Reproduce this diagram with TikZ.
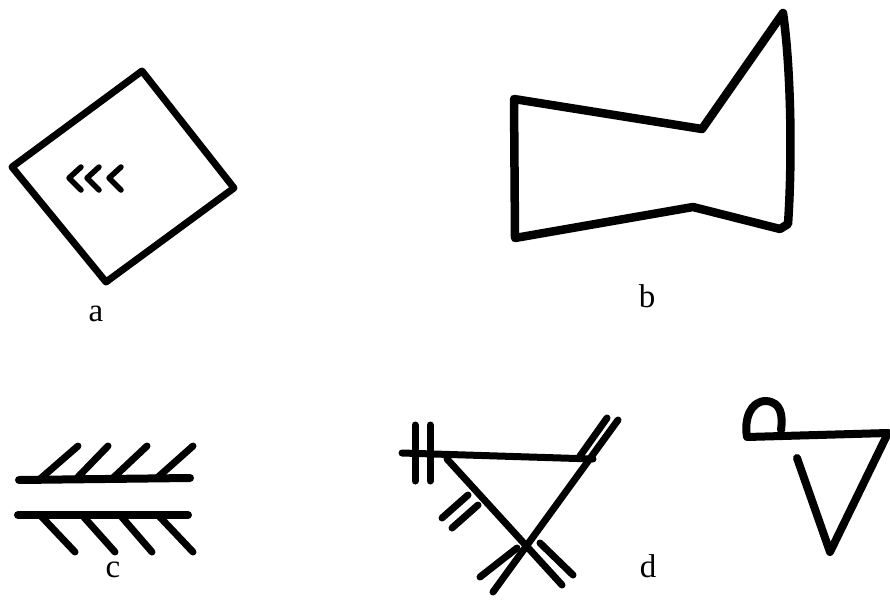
\documentclass[tikz,border=0pt]{standalone}
\usepackage{fontspec}
\setmainfont{Liberation Serif}
\begin{document}
\begin{tikzpicture}[x=1pt,y=-1pt,
  ink/.style={draw=black,line width=7pt,line cap=round,line join=round},
  thick ink/.style={ink,line width=8.5pt},
  thin ink/.style={ink,line width=5.5pt},
  lbl/.style={font=\fontsize{33}{34}\selectfont,anchor=base,inner sep=0pt}]
\useasboundingbox (0,0) rectangle (890,602);
% ---- a ----
\draw[ink] (142,71) -- (234,188) -- (106,282) -- (12,167) -- cycle;
\draw[thin ink] (81,167) -- (69,178) -- (81,190);
\draw[thin ink] (99,167) -- (87,178) -- (99,190);
\draw[thin ink] (121,167) -- (109,178) -- (121,190);
\node[lbl] (la) at (96,321) {a};
% ---- b ----
\draw[thick ink] (514,99) -- (702,129) -- (783,13)
  .. controls (790,60) and (793,150) .. (788,224)
  -- (780,229) -- (693,207) -- (515,238) -- cycle;
\node[lbl] (lb) at (647,307) {b};
% ---- c ----
\draw[ink,line width=8pt] (19,480) -- (190,478);
\draw[ink] (40,479) -- (78,446);
\draw[ink] (77,478) -- (108,446);
\draw[ink] (113,478) -- (147,446);
\draw[ink] (157,478) -- (193,446);
\draw[ink,line width=8pt] (18,515) -- (188,515);
\draw[ink] (40,515) -- (75,552);
\draw[ink] (82,515) -- (115,552);
\draw[ink] (120,515) -- (152,552);
\draw[ink] (158,515) -- (193,552);
\node[lbl] (lc) at (113,577) {c};
% ---- d ----
\draw[ink] (402,453) -- (593,459);
\draw[ink] (415,425) -- (415,481);
\draw[ink] (430,425) -- (430,481);
\draw[ink] (447,459) -- (562,585);
\draw[ink] (493,592) -- (618,420);
\draw[ink] (580,456) -- (607,418);
\draw[ink] (468,495) -- (442,518);
\draw[ink] (478,505) -- (452,528);
\draw[ink] (540,543) -- (573,575);
\draw[ink] (517,548) -- (480,577);
\node[lbl] (ld) at (648,577) {d};
% ---- e ----
\draw[ink,line width=8pt] (781,430) .. controls (783,415) and (781,402) .. (766,401)
  .. controls (750,401) and (744,420) .. (747,437)
  -- (888,433) -- (830,552) -- (797,458);
\end{tikzpicture}
\end{document}
